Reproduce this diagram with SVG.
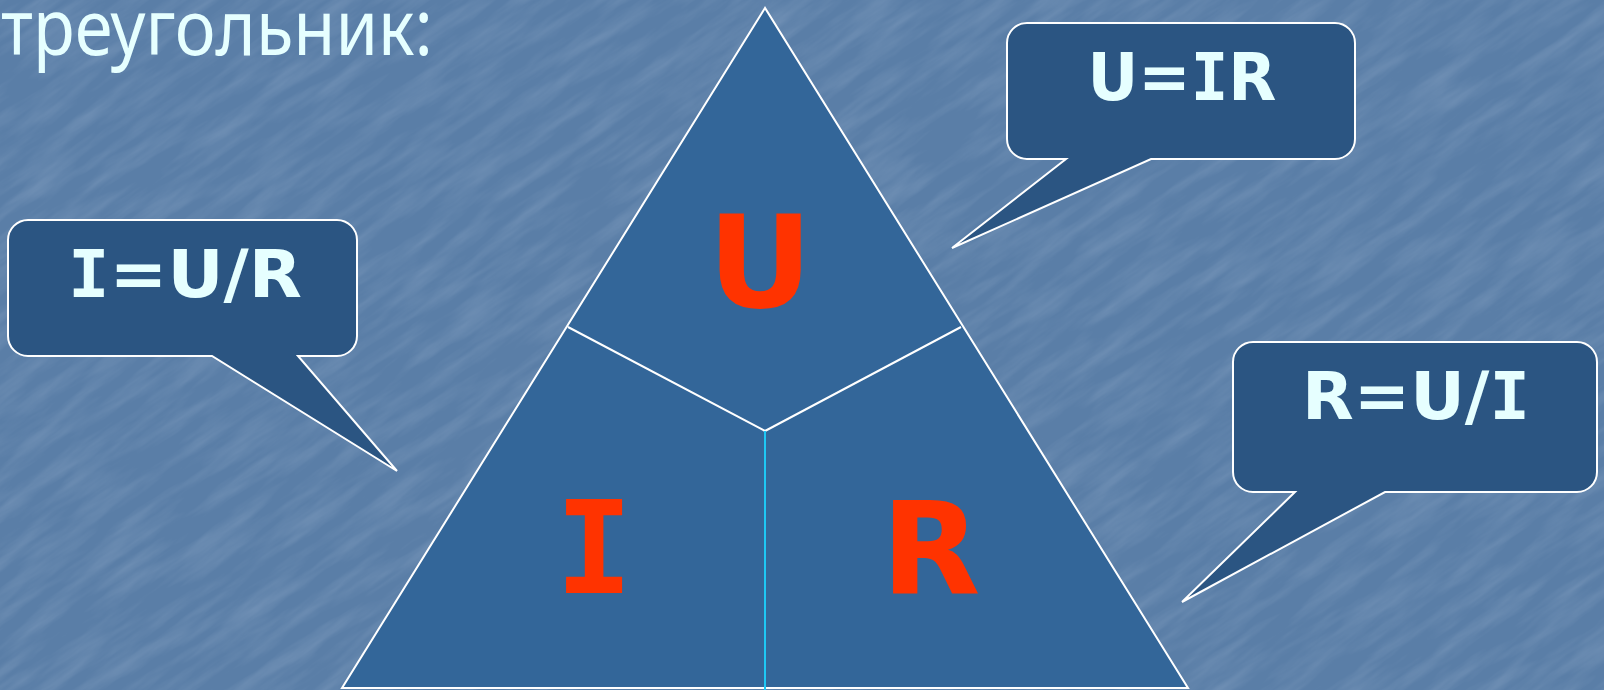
<svg xmlns="http://www.w3.org/2000/svg" width="1604" height="690" viewBox="0 0 1604 690">
  <defs>
    <filter id="tex" x="0" y="0" width="100%" height="100%">
      <feTurbulence type="fractalNoise" baseFrequency="0.012 0.07" numOctaves="4" seed="11" result="n"/>
      <feColorMatrix in="n" type="matrix" values="0 0 0 0 0.80  0 0 0 0 0.88  0 0 0 0 1  1.2 0 0 0 -0.45"/>
    </filter>
    <style>
      .bubble { fill: #2b5582; stroke: #ffffff; stroke-width: 2; stroke-linejoin: miter; }
      .formula { font-family: "DejaVu Sans", Verdana, sans-serif; font-weight: bold; font-size: 66px; fill: #e6ffff; text-anchor: middle; }
      .big { font-family: "DejaVu Sans", Verdana, sans-serif; font-weight: bold; font-size: 129px; fill: #ff3300; text-anchor: middle; }
      .slab { font-family: "DejaVu Sans Mono", monospace; }
      .edge { stroke: #ffffff; stroke-width: 2; fill: none; }
    </style>
  </defs>

  <rect x="0" y="0" width="1604" height="690" fill="#5a7ea7"/>
  <g transform="rotate(-35 802 345)">
    <rect x="-400" y="-600" width="2400" height="1900" filter="url(#tex)" opacity="0.22"/>
  </g>

  <text x="1" y="55" font-family="'Noto Sans', 'DejaVu Sans', sans-serif" font-size="77" fill="#e6ffff" textLength="432" lengthAdjust="spacingAndGlyphs">треугольник:</text>

  <g id="triangle">
    <polygon points="765,8 342,688 1188,688" fill="#336699" stroke="#ffffff" stroke-width="2"/>
  </g>

  <g id="connectors">
    <polyline class="edge" points="568,327 765,431 961,327"/>
    <line x1="765" y1="431" x2="765" y2="692" stroke="#1ec8f5" stroke-width="2"/>
  </g>

  <g id="node-U"><text class="big" x="760" y="307">U</text></g>
  <g id="node-I"><text class="big slab" x="594" y="593">I</text></g>
  <g id="node-R"><text class="big" x="931" y="593">R</text></g>

  <g id="callout-I">
    <path class="bubble" d="M28,220 H337 A20,20 0 0 1 357,240 V336 A20,20 0 0 1 337,356 H298 L397,471 L212,356 H28 A20,20 0 0 1 8,336 V240 A20,20 0 0 1 28,220 Z"/>
    <text class="formula" x="185" y="297" textLength="234" lengthAdjust="spacingAndGlyphs"><tspan class="slab">I</tspan>=U/R</text>
  </g>

  <g id="callout-U">
    <path class="bubble" d="M1027,23 H1335 A20,20 0 0 1 1355,43 V139 A20,20 0 0 1 1335,159 H1151 L952,248 L1066,159 H1027 A20,20 0 0 1 1007,139 V43 A20,20 0 0 1 1027,23 Z"/>
    <text class="formula" x="1182" y="100" textLength="189" lengthAdjust="spacingAndGlyphs">U=<tspan class="slab">I</tspan>R</text>
  </g>

  <g id="callout-R">
    <path class="bubble" d="M1253,342 H1577 A20,20 0 0 1 1597,362 V472 A20,20 0 0 1 1577,492 H1385 L1182,602 L1295,492 H1253 A20,20 0 0 1 1233,472 V362 A20,20 0 0 1 1253,342 Z"/>
    <text class="formula" x="1416" y="419" textLength="228" lengthAdjust="spacingAndGlyphs">R=U/<tspan class="slab">I</tspan></text>
  </g>
</svg>
